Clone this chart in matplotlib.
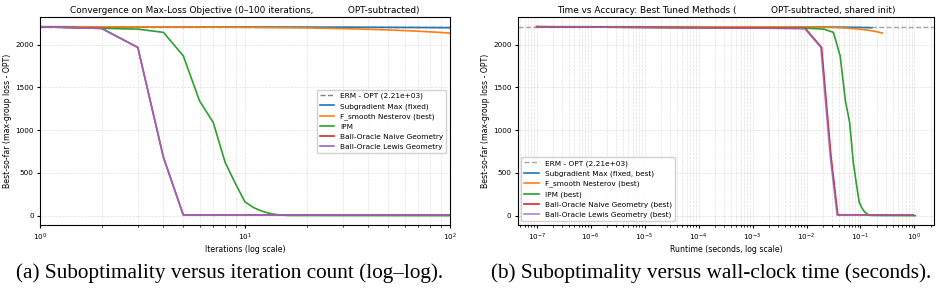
import matplotlib
matplotlib.use("Agg")
import matplotlib.pyplot as plt

# ---- data ----
erm_gap = 2212

sub_iters = [1, 10, 30, 60, 100]
sub_vals = [2210, 2207, 2205, 2202, 2199]
sub_times = [1e-7, 0.0146, 0.0475, 0.0965, 0.162]

nes_iters = [1, 2, 5, 10, 20, 30, 40, 50, 60, 70, 80, 90, 100]
nes_vals = [2210, 2209, 2207, 2203, 2196, 2188, 2180, 2173, 2165, 2158, 2150, 2143, 2135]
nes_times = [1e-7, 0.0026, 0.0103, 0.0232, 0.049, 0.0748, 0.1006, 0.1264, 0.1522,
             0.178, 0.2038, 0.2296, 0.2554]

ipm_iters = [1, 2, 3, 4, 5, 6, 7, 8, 9, 10, 11, 12, 13, 14, 15, 16, 100]
ipm_vals = [2210, 2192, 2182, 2144, 1870, 1343, 1090, 624, 370, 160, 95, 55, 30, 15, 7, 2, 0]
ipm_times = [1e-7, 0.0105, 0.021, 0.0315, 0.042, 0.0525, 0.063, 0.0735, 0.084, 0.0945,
             0.105, 0.1155, 0.126, 0.1365, 0.147, 0.1575, 1.04]

naive_iters = [1, 2, 3, 4, 5, 100]
naive_vals = [2210, 2190, 1968, 683, 8, 8]
naive_times = [1e-7, 0.0095, 0.019, 0.0285, 0.038, 0.95]

lewis_iters = [1, 2, 3, 4, 5, 100]
lewis_vals = [2210, 2190, 1968, 683, 8, 8]
lewis_times = [1e-7, 0.0092, 0.0184, 0.0276, 0.0368, 0.92]

fs_tick = 5.2
fs_lab = 5.6
fs_title = 6.4
fs_leg = 5.3

fig = plt.figure(figsize=(9.41, 2.95), dpi=100)
ax1 = fig.add_axes([0.0425, 0.237, 0.4357, 0.705])
ax2 = fig.add_axes([0.5502, 0.237, 0.4427, 0.705])

# (a) iterations
ax1.axhline(erm_gap, color='gray', ls='--', lw=1, label='ERM - OPT (2.21e+03)')
ax1.plot(sub_iters, sub_vals, color='tab:blue', lw=1.2, label='Subgradient Max (fixed)')
ax1.plot(nes_iters, nes_vals, color='tab:orange', lw=1.2, label='F_smooth Nesterov (best)')
ax1.plot(ipm_iters, ipm_vals, color='tab:green', lw=1.2, label='IPM')
ax1.plot(naive_iters, naive_vals, color='tab:red', lw=1.2, label='Ball-Oracle Naive Geometry')
ax1.plot(lewis_iters, lewis_vals, color='tab:purple', lw=1.2, label='Ball-Oracle Lewis Geometry')
ax1.set_xscale('log')
ax1.set_xlim(1, 100)
ax1.set_title('Convergence on Max-Loss Objective (0\u2013100 iterations,            OPT-subtracted)',
              fontsize=fs_title, pad=3)
ax1.set_xlabel('Iterations (log scale)', fontsize=fs_lab, labelpad=2)
ax1.set_ylabel('Best-so-far (max-group loss - OPT)', fontsize=fs_lab, labelpad=2)
ax1.legend(loc='center right', fontsize=fs_leg, framealpha=0.9)

# (b) wall-clock time
ax2.axhline(erm_gap, color='gray', ls='--', lw=1, alpha=0.7, label='ERM - OPT (2.21e+03)')
ax2.plot(sub_times, sub_vals, color='tab:blue', lw=1.2, label='Subgradient Max (fixed, best)')
ax2.plot(nes_times, nes_vals, color='tab:orange', lw=1.2, label='F_smooth Nesterov (best)')
ax2.plot(ipm_times, ipm_vals, color='tab:green', lw=1.2, label='IPM (best)')
ax2.plot(naive_times, naive_vals, color='tab:red', lw=1.2, label='Ball-Oracle Naive Geometry (best)')
ax2.plot(lewis_times, lewis_vals, color='tab:purple', lw=1.2, alpha=0.8,
         label='Ball-Oracle Lewis Geometry (best)')
ax2.set_xscale('log')
ax2.set_title('Time vs Accuracy: Best Tuned Methods (            OPT-subtracted, shared init)',
              fontsize=fs_title, pad=3)
ax2.set_xlabel('Runtime (seconds, log scale)', fontsize=fs_lab, labelpad=2)
ax2.set_ylabel('Best-so-far (max-group loss - OPT)', fontsize=fs_lab, labelpad=2)
ax2.legend(loc='lower left', fontsize=fs_leg, framealpha=0.9)

for ax in (ax1, ax2):
    ax.grid(True, which='both', ls='--', lw=0.5, alpha=0.4)
    ax.tick_params(labelsize=fs_tick, pad=2, length=2.5)
    ax.tick_params(which='minor', length=1.5)
    ax.set_yticks([0, 500, 1000, 1500, 2000])

# captions
cap = dict(fontsize=15.3, family='Liberation Serif', ha='center', va='center')
fig.text(0.244, 0.073, '(a) Suboptimality versus iteration count (log\u2013log).', **cap)
fig.text(0.756, 0.073, '(b) Suboptimality versus wall-clock time (seconds).', **cap)

fig.savefig('out.png', dpi=100)
